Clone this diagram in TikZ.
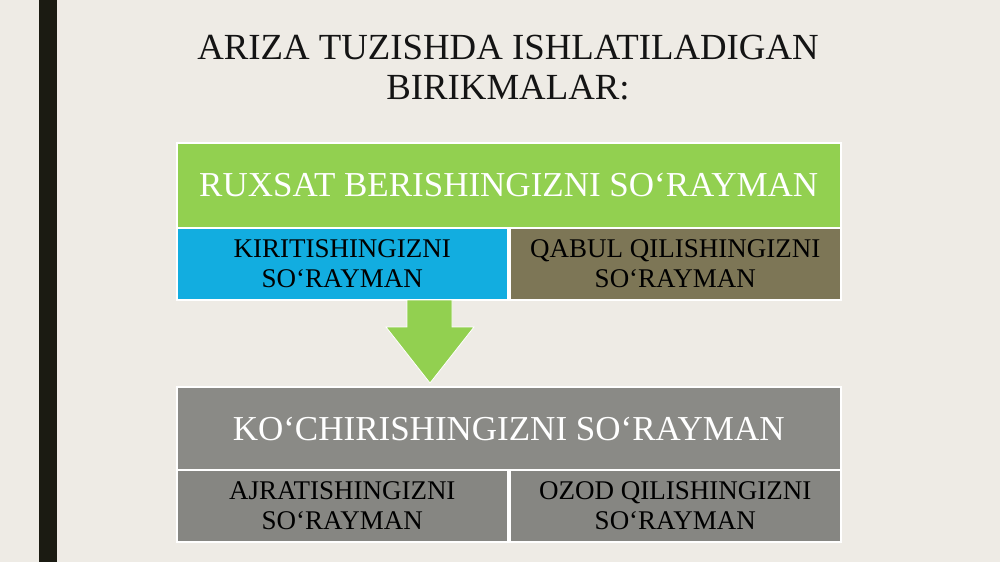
\documentclass[tikz,border=0pt]{standalone}
\usepackage{fontspec}
\setmainfont{Liberation Serif}
\definecolor{bg}{HTML}{EEEBE5}
\definecolor{bar}{HTML}{1B1B12}
\definecolor{grn}{HTML}{92D050}
\definecolor{blu}{HTML}{12ADE0}
\definecolor{oliv}{HTML}{7D7656}
\definecolor{gtop}{HTML}{8A8A86}
\definecolor{glow}{HTML}{868682}
\tikzset{
  headbox/.style={draw=white, line width=1.5pt, anchor=north west, minimum width=664pt, minimum height=85pt, inner sep=0pt, font=\fontsize{35}{38}\selectfont, text=white},
  subbox/.style={draw=white, line width=1.5pt, anchor=north west, minimum width=331pt, minimum height=72pt, inner sep=0pt, align=center, font=\fontsize{27}{30}\selectfont, text=black},
}
\begin{document}
\begin{tikzpicture}[x=1pt,y=-1pt]
\useasboundingbox (0,0) rectangle (1000,562);
\fill[bg] (0,0) rectangle (1000,562);
\fill[bar] (39,0) rectangle (57,562);
\node[align=center, font=\fontsize{36.8}{40}\selectfont, text=black!92] (title) at (508,68) {ARIZA TUZISHDA ISHLATILADIGAN\\BIRIKMALAR:};
% upper group
\node[headbox, fill=grn] (h1) at (176,142) {RUXSAT BERISHINGIZNI SO‘RAYMAN};
\node[subbox, fill=blu] (a1) at (176,227) {KIRITISHINGIZNI\\SO‘RAYMAN};
\node[subbox, fill=oliv] (b1) at (509,227) {QABUL QILISHINGIZNI\\SO‘RAYMAN};
% arrow
\fill[grn, draw=white, line width=0.8pt] (407,300) -- (452,300) -- (452,327) -- (474,327) -- (430,383) -- (386,327) -- (407,327) -- cycle;
% lower group
\node[headbox, fill=gtop] (h2) at (176,386) {KO‘CHIRISHINGIZNI SO‘RAYMAN};
\node[subbox, fill=glow] (a2) at (176,469) {AJRATISHINGIZNI\\SO‘RAYMAN};
\node[subbox, fill=glow] (b2) at (509,469) {OZOD QILISHINGIZNI\\SO‘RAYMAN};
\end{tikzpicture}
\end{document}
